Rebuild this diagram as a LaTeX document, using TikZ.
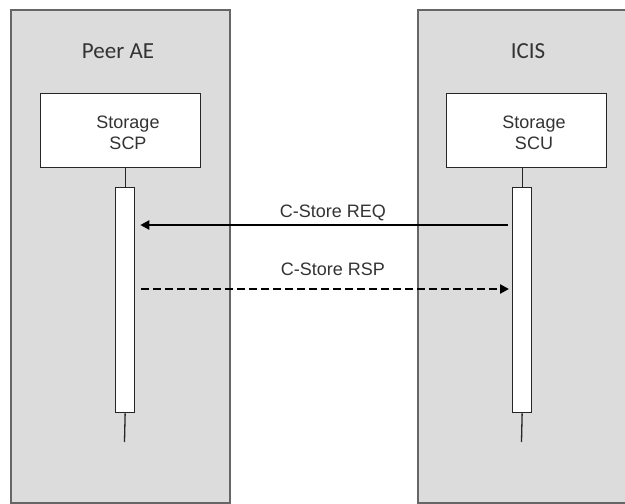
\documentclass[tikz,border=0pt]{standalone}
\usepackage{fontspec}
\setmainfont{Liberation Sans}
\newfontfamily\calib{Carlito}
\usetikzlibrary{arrows.meta,calc}
\definecolor{panelfill}{HTML}{DCDCDC}
\definecolor{paneledge}{HTML}{666666}
\begin{document}
\begin{tikzpicture}[x=1pt,y=-1pt,
  panel/.style={draw=paneledge,line width=2pt,fill=panelfill,anchor=north west,inner sep=0pt},
  title/.style={font=\calib\fontsize{23}{27}\selectfont,text=black!80,anchor=base,inner sep=0pt},
  rolebox/.style={draw=black!85,line width=1.3pt,fill=white,anchor=north west,inner sep=0pt,minimum width=160pt,minimum height=74pt},
  roletext/.style={font=\fontsize{18}{21.5}\selectfont,text=black!80,align=center,anchor=base,inner sep=0pt},
  actbar/.style={draw=black!85,line width=1.3pt,fill=white,anchor=north west,inner sep=0pt,minimum width=19pt,minimum height=225pt},
  life/.style={draw=black!85,line width=1.3pt},
  msglbl/.style={font=\fontsize{18}{21}\selectfont,text=black!80,anchor=base,inner sep=0pt},
  msg/.style={line width=2.4pt,-{Triangle[length=9pt,width=9pt]}},
  rsp/.style={msg,dash pattern=on 8pt off 4pt}]
\useasboundingbox (0,0) rectangle (625,504);
\begin{scope}
\clip (0,0) rectangle (625,504);
\node[panel,minimum width=219pt,minimum height=493pt] (peer) at (10,9) {};
\node[panel,minimum width=220pt,minimum height=493pt] (icis) at (417,9) {};
\end{scope}
\node[title] (peerlbl) at (118,58) {Peer AE};
\node[title] (icislbl) at (528,58) {ICIS};
\node[rolebox] (scp) at (40,93) {};
\node[rolebox] (scu) at (446,93) {};
\node[roletext] (scptxt) at (128,149.5) {Storage\\SCP};
\node[roletext] (scutxt) at (534,149.5) {Storage\\SCU};
\node[actbar] (scpbar) at (115,187) {};
\node[actbar] (scubar) at (512,187) {};
\coordinate (scpend) at (124.5,442);
\coordinate (scuend) at (521.5,442);
\draw[life] (scp.south -| scpbar.north) -- (scpbar.north);
\draw[life] (scu.south -| scubar.north) -- (scubar.north);
\draw[life] (scpbar.south) -- (scpend);
\draw[life] (scubar.south) -- (scuend);
\draw[msg] ($(scubar.north west)+(-4,38)$) -- ($(scpbar.north east)+(5,38)$);
\draw[rsp] ($(scpbar.north east)+(6,102)$) -- ($(scubar.north west)+(-3,102)$);
\node[msglbl] (reqlbl) at (333,217) {C-Store REQ};
\node[msglbl] (rsplbl) at (333,275) {C-Store RSP};
\end{tikzpicture}
\end{document}
